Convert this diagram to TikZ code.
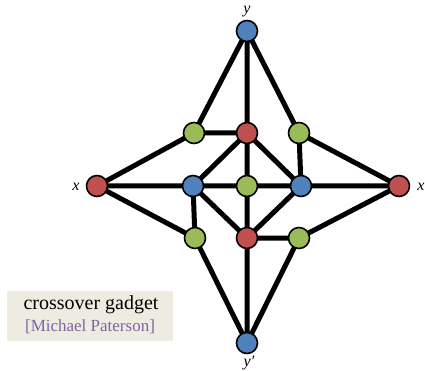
\documentclass[tikz,border=0pt]{standalone}
\usepackage{fontspec}
\setmainfont{Liberation Serif}
\definecolor{nblue}{HTML}{4F81BD}
\definecolor{nred}{HTML}{C0504D}
\definecolor{ngreen}{HTML}{9BBB59}
\definecolor{npurple}{HTML}{8064A2}
\definecolor{boxbg}{HTML}{EEECE1}
\begin{document}
\begin{tikzpicture}[x=1pt,y=-1pt,
  vtx/.style={circle,draw=black,line width=1.6pt,minimum size=21pt,inner sep=0pt},
  bv/.style={vtx,fill=nblue},
  rv/.style={vtx,fill=nred},
  gv/.style={vtx,fill=ngreen},
  edge/.style={line width=5pt},
  lab/.style={font=\fontsize{16}{16}\selectfont\itshape,inner sep=0pt}]
\useasboundingbox (0,0) rectangle (425,371);
\fill[boxbg] (7,291) rectangle (173,341);
\node[font=\fontsize{20}{20}\selectfont] (t1) at (91,305) {crossover gadget};
\node[font=\fontsize{17}{17}\selectfont, text=npurple] (t2) at (90,327) {[Michael Paterson]};
\path (247,31) coordinate (cy) (247,343) coordinate (cyp)
      (97,186) coordinate (cxl) (399,186) coordinate (cxr)
      (247,133) coordinate (crt) (247,238) coordinate (crb)
      (193,186) coordinate (cbl) (301,186) coordinate (cbr) (247,186) coordinate (cgc)
      (194,133) coordinate (cgtl) (299,133) coordinate (cgtr)
      (195,238) coordinate (cgbl) (299,238) coordinate (cgbr);
\draw[edge] (cy) -- (cgtl) (cy) -- (crt) (cy) -- (cgtr)
  (cgtl) -- (crt) (cgtl) -- (cxl) (cgtr) -- (cxr) (cgtr) -- (cbr)
  (crt) -- (cbl) (crt) -- (cgc) (crt) -- (cbr)
  (cxl) -- (cbl) (cbl) -- (cgc) (cgc) -- (cbr) (cbr) -- (cxr)
  (cxl) -- (cgbl) (cbl) -- (cgbl) (cbl) -- (crb) (cgc) -- (crb) (cbr) -- (crb)
  (crb) -- (cgbr) (cgbr) -- (cxr)
  (cgbl) -- (cyp) (crb) -- (cyp) (cgbr) -- (cyp);
\node[bv] (y) at (cy) {};
\node[bv] (yp) at (cyp) {};
\node[rv] (xl) at (cxl) {};
\node[rv] (xr) at (cxr) {};
\node[rv] (rt) at (crt) {};
\node[rv] (rb) at (crb) {};
\node[bv] (bl) at (cbl) {};
\node[bv] (br) at (cbr) {};
\node[gv] (gc) at (cgc) {};
\node[gv] (gtl) at (cgtl) {};
\node[gv] (gtr) at (cgtr) {};
\node[gv] (gbl) at (cgbl) {};
\node[gv] (gbr) at (cgbr) {};
\node[lab,anchor=base] (ly) at (247,14) {y};
\node[lab,anchor=base] (lyp) at (249,366) {y\char"2032};
\node[lab,anchor=base] (lxl) at (76,191) {x};
\node[lab,anchor=base] (lxr) at (421,191) {x};
\end{tikzpicture}
\end{document}
